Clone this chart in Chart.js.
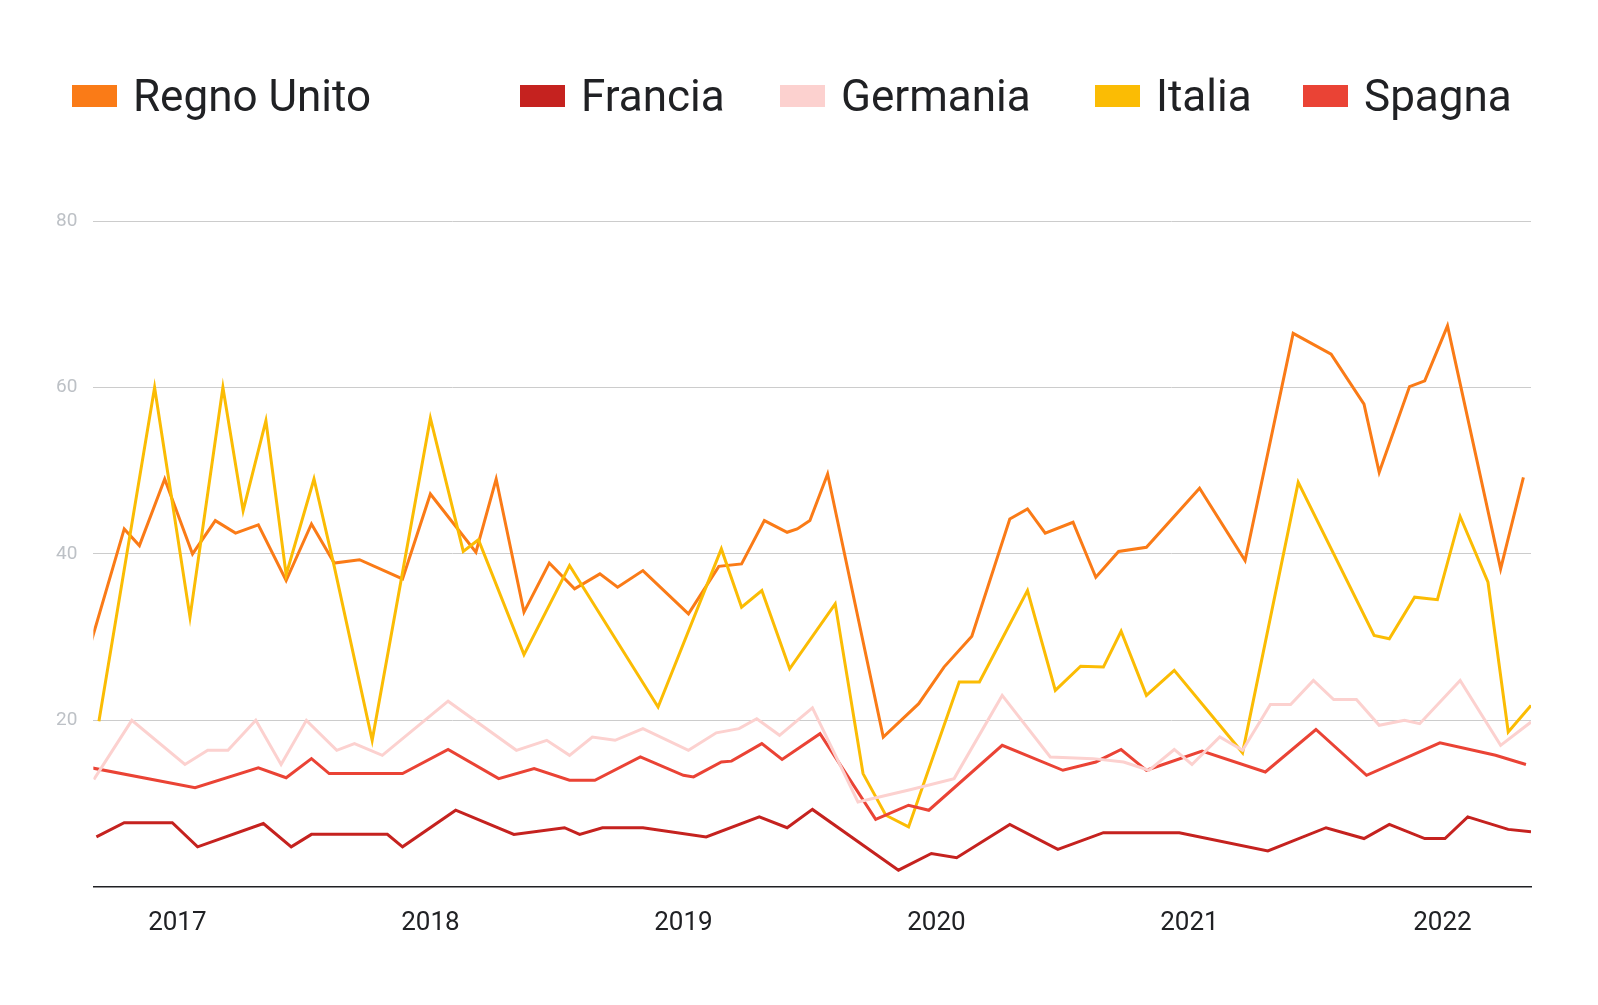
<!DOCTYPE html>
<html><head><meta charset="utf-8">
<script src="https://cdn.jsdelivr.net/npm/chart.js@4"></script>
<style>
body{margin:0;background:#fff;font-family:Roboto,"Open Sans",sans-serif;}
#wrap{position:relative;width:1598px;height:1005px;}
#legend{position:absolute;top:70px;left:0;width:1598px;height:60px;}
.li{position:absolute;display:flex;align-items:center;font-size:44px;color:#202124;}
.li span.b{display:inline-block;width:45px;height:22px;margin-right:16px;}
canvas{position:absolute;top:0;left:0;}
</style></head><body>
<div id="wrap"><canvas id="c" width="1598" height="1005"></canvas><div id="legend"></div></div>
<script>
const seriesNames=["Regno Unito","Francia","Germania","Italia","Spagna"];
const colors=["#fa7b17","#c5221f","#fcd1cf","#fbbc04","#ea4335"];
const ukX=[2016.66,2016.79,2016.85,2016.95,2017.06,2017.15,2017.23,2017.32,2017.43,2017.53,2017.62,2017.72,2017.89,2018.00,2018.18,2018.26,2018.37,2018.47,2018.57,2018.67,2018.74,2018.84,2019.02,2019.14,2019.23,2019.32,2019.41,2019.45,2019.50,2019.57,2019.79,2019.93,2020.03,2020.14,2020.29,2020.36,2020.43,2020.54,2020.63,2020.72,2020.83,2021.04,2021.22,2021.41,2021.56,2021.69,2021.75,2021.87,2021.93,2022.02,2022.23,2022.32];
const ukY=[29.5,43,41,49,40,44,42.5,43.5,36.8,43.6,38.9,39.3,37,47.2,40.2,49,33,38.9,35.8,37.6,36,38,32.8,38.5,38.8,44,42.6,43,44,49.6,18,22,26.4,30.1,44.2,45.4,42.5,43.8,37.2,40.3,40.8,47.9,39.2,66.5,64,58,49.8,60.1,60.8,67.4,38.2,49.2];
const frX=[2016.68,2016.79,2016.98,2017.08,2017.34,2017.45,2017.53,2017.83,2017.89,2018.10,2018.33,2018.53,2018.59,2018.68,2018.84,2019.09,2019.30,2019.41,2019.51,2019.85,2019.98,2020.08,2020.29,2020.48,2020.66,2020.96,2021.31,2021.54,2021.69,2021.79,2021.93,2022.01,2022.10,2022.26,2022.35];
const frY=[6,7.7,7.7,4.8,7.6,4.8,6.3,6.3,4.8,9.2,6.3,7.1,6.3,7.1,7.1,6,8.4,7.1,9.3,2,4,3.5,7.5,4.5,6.5,6.5,4.3,7.1,5.8,7.5,5.8,5.8,8.4,6.9,6.6];
const deX=[2016.67,2016.82,2017.03,2017.12,2017.20,2017.31,2017.41,2017.51,2017.63,2017.70,2017.81,2018.07,2018.34,2018.46,2018.55,2018.64,2018.73,2018.84,2019.02,2019.13,2019.22,2019.29,2019.38,2019.51,2019.69,2019.90,2020.07,2020.26,2020.45,2020.62,2020.74,2020.84,2020.94,2021.01,2021.12,2021.21,2021.32,2021.40,2021.49,2021.57,2021.66,2021.75,2021.85,2021.91,2022.07,2022.23,2022.35];
const deY=[12.9,20,14.7,16.4,16.4,20,14.7,20,16.4,17.2,15.8,22.3,16.4,17.6,15.8,18,17.6,19,16.4,18.5,19,20.2,18.2,21.5,10.2,11.7,13,23,15.6,15.4,15,14,16.5,14.7,18,16.4,21.9,21.9,24.8,22.5,22.5,19.4,20,19.6,24.8,17,19.8];
const itX=[2016.69,2016.91,2017.05,2017.18,2017.26,2017.35,2017.43,2017.54,2017.62,2017.77,2018.00,2018.13,2018.19,2018.37,2018.55,2018.90,2019.15,2019.23,2019.31,2019.42,2019.60,2019.71,2019.80,2019.89,2020.09,2020.17,2020.36,2020.47,2020.57,2020.66,2020.73,2020.83,2020.94,2021.21,2021.43,2021.73,2021.79,2021.89,2021.98,2022.07,2022.18,2022.26,2022.35];
const itY=[19.9,60,32.4,60,45.2,56,37.5,49,38.5,17.6,56.3,40.3,41.7,27.9,38.6,21.6,40.6,33.6,35.6,26.2,34,13.6,8.6,7.2,24.6,24.6,35.6,23.6,26.5,26.4,30.7,23,26,16.1,48.6,30.2,29.8,34.8,34.5,44.5,36.6,18.6,21.8];
const esX=[2016.66,2017.07,2017.32,2017.43,2017.53,2017.60,2017.89,2018.07,2018.27,2018.41,2018.55,2018.65,2018.83,2019.00,2019.04,2019.15,2019.19,2019.31,2019.39,2019.54,2019.76,2019.89,2019.97,2020.26,2020.50,2020.63,2020.73,2020.83,2021.05,2021.30,2021.50,2021.70,2021.99,2022.21,2022.33];
const esY=[14.3,11.9,14.3,13.1,15.4,13.6,13.6,16.5,13,14.2,12.8,12.8,15.6,13.4,13.2,15,15.1,17.2,15.3,18.4,8.1,9.8,9.2,17,14,15,16.5,14,16.3,13.8,18.9,13.4,17.3,15.8,14.7];
const yearTicks=[2017,2018,2019,2020,2021,2022];
const yTicks=[20,40,60,80];

const xs=[ukX,frX,deX,itX,esX], ys=[ukY,frY,deY,itY,esY];
const legendLeft=[72,520,780,1095,1303];
const lg=document.getElementById('legend');
seriesNames.forEach((n,i)=>{const d=document.createElement('div');d.className='li';d.style.left=legendLeft[i]+'px';
d.innerHTML='<span class="b" style="background:'+colors[i]+'"></span>'+n;lg.appendChild(d);});

const order=[2,1,4,3,0];
const datasets=order.map(i=>({label:seriesNames[i],data:xs[i].map((x,k)=>({x:x,y:ys[i][k]})),
 borderColor:colors[i],backgroundColor:colors[i],borderWidth:3,pointRadius:0,tension:0,fill:false}));
new Chart(document.getElementById('c'),{type:'line',data:{datasets},
options:{responsive:false,animation:false,
layout:{padding:{top:221,left:40,right:67,bottom:45}},
plugins:{legend:{display:false},tooltip:{enabled:false}},
scales:{
x:{type:'linear',min:2016.668,max:2022.35,
 afterBuildTicks:s=>{s.ticks=yearTicks.map(v=>({value:v}));},
 ticks:{callback:v=>String(v),color:'#202124',font:{family:'Roboto',size:26},padding:21,maxRotation:0},
 grid:{display:false,drawTicks:false},border:{display:true,color:'#202124',width:1.5}},
y:{min:0,max:80,
 afterBuildTicks:s=>{s.ticks=[0].concat(yTicks).map(v=>({value:v}));},
 ticks:{callback:v=>v===0?'':String(v),color:'#bdc1c6',font:{family:'Roboto',size:19},padding:16},
 grid:{color:ctx=>ctx.tick.value===0?'rgba(0,0,0,0)':'#cccccc',drawTicks:false,lineWidth:1},border:{display:false}}
}}});
</script></body></html>
